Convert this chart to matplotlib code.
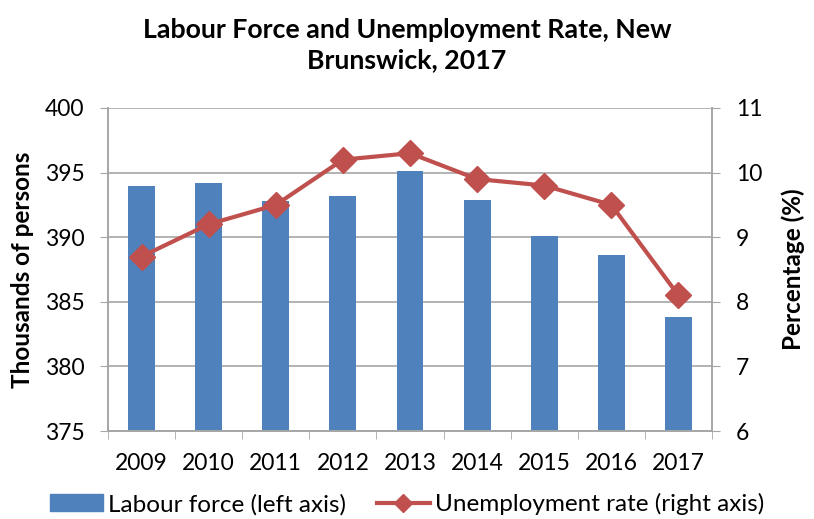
import matplotlib
matplotlib.use("Agg")
import matplotlib.pyplot as plt
from matplotlib.ticker import FixedLocator
import numpy as np

years = ["2009", "2010", "2011", "2012", "2013", "2014", "2015", "2016", "2017"]
labour_force = [394.0, 394.2, 392.8, 393.2, 395.1, 392.9, 390.1, 388.6, 383.8]
unemployment = [8.7, 9.2, 9.5, 10.2, 10.3, 9.9, 9.8, 9.5, 8.1]

plt.rcParams["font.family"] = ["Lato", "DejaVu Sans"]
grid_col = "#a6a6a6"
bar_col = "#4f81bd"
line_col = "#c0504d"
fs = 16.5

fig = plt.figure(figsize=(8.14, 5.19), dpi=100)
ax = fig.add_axes([108 / 814, 1 - 431 / 519, (712 - 108) / 814, (431 - 108) / 519])
ax2 = ax.twinx()

x = np.arange(len(years))
ax.bar(x, labour_force, width=0.4, color=bar_col, zorder=2)
ax.set_ylim(375, 400)
ax.set_yticks(np.arange(375, 401, 5))
ax.set_xlim(-0.5, len(years) - 0.5)
ax.set_xticks(x)
ax.set_xticklabels(years)
ax.xaxis.set_minor_locator(FixedLocator(np.arange(-0.5, len(years), 1)))
ax.tick_params(axis="x", which="major", length=0, pad=16, labelsize=fs)
ax.tick_params(axis="x", which="minor", length=6, color=grid_col, direction="out")
ax.tick_params(axis="y", length=6, color=grid_col, labelsize=fs, direction="out", pad=11)
ax.grid(axis="y", color=grid_col, linewidth=1.2, zorder=0)
ax.set_axisbelow(True)
ax.set_ylabel("Thousands of persons", fontsize=17.5, fontweight="bold", labelpad=8)

ax2.plot(x, unemployment, color=line_col, linewidth=3, marker="D", markersize=13,
         zorder=3)
ax2.set_ylim(6, 11)
ax2.set_yticks(np.arange(6, 12, 1))
ax2.tick_params(axis="y", length=6, color=grid_col, labelsize=fs, direction="out", pad=11)
ax2.set_ylabel("Percentage (%)", fontsize=17.5, fontweight="bold", labelpad=14)

for a in (ax, ax2):
    a.spines["top"].set_visible(False)
    for side in ("left", "right", "bottom"):
        a.spines[side].set_color(grid_col)
        a.spines[side].set_linewidth(1.2)

fig.text(0.5, 0.965, "Labour Force and Unemployment Rate, New\nBrunswick, 2017",
         ha="center", va="top", fontsize=19.3, fontweight="bold", linespacing=1.3)

h1 = plt.Rectangle((0, 0), 1, 1, color=bar_col)
h2, = ax2.plot([], [], color=line_col, linewidth=3, marker="D", markersize=9)
fig.legend([h1, h2], ["Labour force (left axis)", "Unemployment rate (right axis)"],
           loc="lower center", bbox_to_anchor=(0.5, -0.035), ncol=2, frameon=False,
           fontsize=17.5, handlelength=2.2, handletextpad=0.2, columnspacing=1.25)

fig.savefig("out.png", dpi=100)
